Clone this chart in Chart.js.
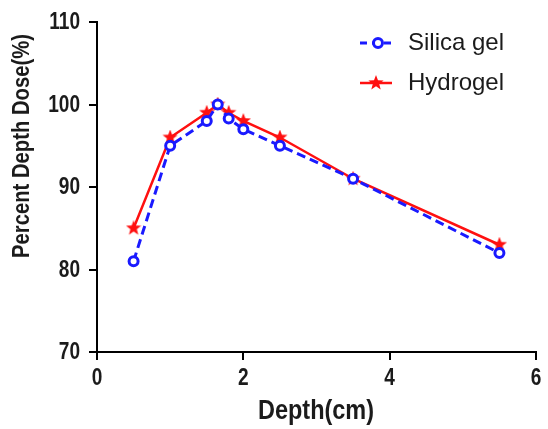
<!DOCTYPE html>
<html>
<head>
<meta charset="utf-8">
<script src="https://cdn.jsdelivr.net/npm/chart.js@4.4.1/dist/chart.umd.min.js"></script>
<style>
  body { margin: 0; background: #fff; }
  #wrap { width: 548px; height: 429px; }
</style>
</head>
<body>
<div id="wrap"><canvas id="pddChart" width="548" height="429"></canvas></div>
<script>
// Data
const depth = [0.5, 1.0, 1.5, 1.65, 1.8, 2.0, 2.5, 3.5, 5.5];
const silicaGel = [81, 95, 98, 100, 98.3, 97, 95, 91, 82];
const hydrogel = [85, 96, 99, 100, 99, 98, 96, 91, 83];
const xTicks = [0, 2, 4, 6];
const yTicks = [70, 80, 90, 100, 110];

const BLUE = '#1a1aff';
const RED = '#ff1010';
const INK = '#1b1b1b';
const FAMILY = '"Liberation Sans", Arial, sans-serif';

// filled star marker for hydrogel
function makeStar(size, color) {
    const c = document.createElement('canvas');
    c.width = size; c.height = size;
    const g = c.getContext('2d');
    const cx = size / 2, cy = size / 2, R = size / 2, r = R * 0.42;
    g.beginPath();
    for (let i = 0; i < 10; i++) {
        const rad = i % 2 === 0 ? R : r;
        const a = -Math.PI / 2 + i * Math.PI / 5;
        g.lineTo(cx + rad * Math.cos(a), cy + rad * Math.sin(a));
    }
    g.closePath();
    g.fillStyle = color;
    g.fill();
    return c;
}
const starImg = makeStar(16, RED);

function toXY(xs, ys) {
    return xs.map((x, i) => ({ x: x, y: ys[i] }));
}

// the figure uses a narrow bold face, so squeeze the text horizontally
function narrowText(ctx, text, x, y, size, sx, align, rot) {
    ctx.save();
    ctx.translate(x, y);
    if (rot) ctx.rotate(rot);
    ctx.scale(sx, 1);
    ctx.font = 'bold ' + size + 'px ' + FAMILY;
    ctx.fillStyle = INK;
    ctx.textAlign = align;
    ctx.textBaseline = 'middle';
    ctx.fillText(text, 0, 0);
    ctx.restore();
}

const axisText = {
    id: 'axisText',
    afterDraw(chart) {
        const ctx = chart.ctx;
        const xs = chart.scales.x, ys = chart.scales.y;
        yTicks.forEach(v => narrowText(ctx, String(v), 80, ys.getPixelForValue(v) + 1, 23, 0.83, 'right'));
        xTicks.forEach(v => narrowText(ctx, String(v), xs.getPixelForValue(v), 379, 23, 0.83, 'center'));
        narrowText(ctx, 'Depth(cm)', 316, 412, 27, 0.87, 'center');
        narrowText(ctx, 'Percent Depth Dose(%)', 23, 146, 23, 0.88, 'center', -Math.PI / 2);
    }
};

// legend drawn inside the plot, top right
const insideLegend = {
    id: 'insideLegend',
    afterDraw(chart) {
        const ctx = chart.ctx;
        ctx.save();
        // Silica gel
        ctx.strokeStyle = BLUE;
        ctx.lineWidth = 3;
        ctx.setLineDash([7, 5]);
        ctx.beginPath();
        ctx.moveTo(360, 43); ctx.lineTo(392, 43);
        ctx.stroke();
        ctx.setLineDash([]);
        ctx.fillStyle = '#fff';
        ctx.beginPath();
        ctx.arc(378, 43, 4.5, 0, Math.PI * 2);
        ctx.fill(); ctx.stroke();
        // Hydrogel
        ctx.strokeStyle = RED;
        ctx.lineWidth = 2.5;
        ctx.beginPath();
        ctx.moveTo(360, 83); ctx.lineTo(392, 83);
        ctx.stroke();
        ctx.drawImage(starImg, 376 - 8, 83 - 8);
        ctx.fillStyle = INK;
        ctx.font = '24px ' + FAMILY;
        ctx.textBaseline = 'alphabetic';
        ctx.fillText('Silica gel', 408, 50);
        ctx.fillText('Hydrogel', 408, 90);
        ctx.restore();
    }
};

const axisGrid = { display: true, drawOnChartArea: false, drawTicks: true, tickLength: 8, color: '#000', lineWidth: 2 };

new Chart(document.getElementById('pddChart'), {
    type: 'scatter',
    data: {
        datasets: [{
            label: 'Silica gel',
            data: toXY(depth, silicaGel),
            showLine: true,
            borderColor: BLUE,
            borderWidth: 3,
            borderDash: [9, 5],
            pointStyle: 'circle',
            pointRadius: 4.5,
            pointBorderWidth: 3,
            pointBackgroundColor: '#fff',
            pointBorderColor: BLUE
        }, {
            label: 'Hydrogel',
            data: toXY(depth, hydrogel),
            showLine: true,
            borderColor: RED,
            borderWidth: 2.5,
            pointStyle: starImg,
            pointRadius: 8
        }]
    },
    options: {
        responsive: false,
        animation: false,
        layout: { padding: { top: 22, right: 12, left: 0, bottom: 0 } },
        plugins: {
            legend: { display: false },
            tooltip: { enabled: false }
        },
        scales: {
            x: {
                type: 'linear',
                min: 0, max: 6,
                afterBuildTicks(scale) { scale.ticks = xTicks.map(v => ({ value: v })); },
                afterFit(scale) { scale.height = 77; },
                grid: axisGrid,
                border: { display: true, color: '#000', width: 2 },
                ticks: { display: false }
            },
            y: {
                type: 'linear',
                min: 70, max: 110,
                afterBuildTicks(scale) { scale.ticks = yTicks.map(v => ({ value: v })); },
                afterFit(scale) { scale.width = 97; },
                grid: axisGrid,
                border: { display: true, color: '#000', width: 2 },
                ticks: { display: false }
            }
        }
    },
    plugins: [axisText, insideLegend]
});
</script>
</body>
</html>
